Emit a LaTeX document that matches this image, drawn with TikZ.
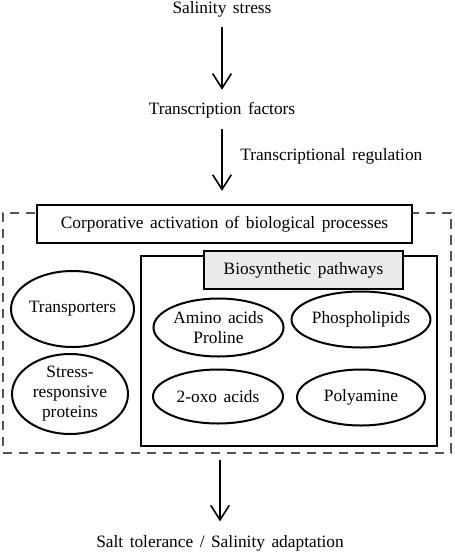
\documentclass[tikz,border=0pt]{standalone}
\usepackage{fontspec}
\setmainfont[WordSpace=1.5]{Liberation Serif}
\usetikzlibrary{arrows.meta,shapes.geometric}
\definecolor{boxgray}{HTML}{EBEBEB}
\definecolor{dashgray}{HTML}{555555}
\begin{document}
\begin{tikzpicture}[x=0.75pt,y=-0.75pt,
  every node/.style={font=\fontsize{13}{15}\selectfont},
  plain/.style={inner sep=0pt,text height=9pt,text depth=3pt},
  arr/.style={line width=1.5pt,-{Straight Barb[length=11pt,width=14pt,line width=1.2pt]}},
  oval/.style={ellipse,draw,line width=1.5pt,inner sep=0pt,align=center},
  sbox/.style={draw,line width=1.2pt,inner sep=0pt}]
\useasboundingbox (0,0) rectangle (454,554);
\node[plain] (ss) at (222,9) {Salinity stress};
\node[plain] (tf) at (222,110) {Transcription factors};
\node[plain,anchor=west] (tr) at (240,156) {Transcriptional regulation};
\node[draw=dashgray,dash pattern=on 7pt off 5pt,line width=1.5pt,minimum width=336pt,minimum height=180pt,inner sep=0pt] (outer) at (227,332.5) {};
\node[sbox,fill=white,minimum width=281pt,minimum height=28.5pt] (title) at (224.5,224) {Corporative activation of biological processes};
\node[draw,line width=2pt,minimum width=222pt,minimum height=142.5pt,inner sep=0pt] (inner) at (289,351) {};
\node[sbox,fill=boxgray,minimum width=149pt,minimum height=28.5pt] (bio) at (303.5,270) {Biosynthetic pathways};
\node[oval,minimum width=85.5pt,minimum height=57pt] (trans) at (72.5,309) {Transporters};
\node[oval,minimum width=87pt,minimum height=60pt] (srp) at (70,394) {Stress-\\responsive\\proteins};
\node[oval,minimum width=97.5pt,minimum height=43.5pt] (aa) at (218.5,327.5) {Amino acids\\Proline};
\node[oval,minimum width=96pt,minimum height=42pt] (pl) at (361,319.5) {Phospholipids};
\node[oval,minimum width=97.5pt,minimum height=40.5pt] (oxo) at (218,396.5) {2-oxo acids};
\node[oval,minimum width=96pt,minimum height=42pt] (pa) at (361,397.5) {Polyamine};
\node[plain] (salt) at (220,543) {Salt tolerance / Salinity adaptation};
\draw[arr,shorten <=7.5pt,shorten >=9pt] (ss.south) -- (tf.north);
\draw[arr,shorten <=8pt,shorten >=10pt] (tf.south) -- (tf.south |- title.north);
\draw[arr,shorten <=5pt,shorten >=10pt] (outer.south -| salt.north) -- (salt.north);
\end{tikzpicture}
\end{document}
